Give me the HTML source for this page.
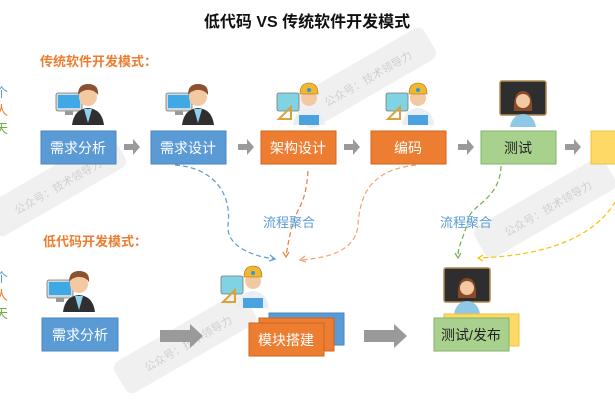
<!DOCTYPE html>
<html><head><meta charset="utf-8"><style>
html,body{margin:0;padding:0;background:#fff;}
svg{display:block;font-family:"Liberation Sans","Noto Sans CJK SC",sans-serif;}
</style></head><body>
<svg width="615" height="410" viewBox="0 0 615 410" xmlns="http://www.w3.org/2000/svg">
<defs>
<g id="man">
 <rect x="0" y="14" width="26" height="18" rx="2" fill="#cfd8dc" stroke="#777" stroke-width="0.8"/>
 <rect x="2" y="16" width="22" height="13" fill="#3fa9e6"/>
 <rect x="9" y="32" width="8" height="4" fill="#999"/>
 <path d="M16 46 Q18 30 32 29 Q46 30 48 46 Z" fill="#2f2f2f"/>
 <path d="M28 30 L32 44 L36 30 Z" fill="#8fd0ee"/>
 <circle cx="32" cy="18" r="9" fill="#f3c9a2"/>
 <path d="M22 16 Q22 5 32 5 Q43 5 42 16 Q38 10 30 11 Q25 12 22 16Z" fill="#8a5230"/>
</g>
<g id="worker">
 <rect x="0" y="14" width="22" height="18" rx="2" fill="#7fd3e3" stroke="#777" stroke-width="0.8"/>
 <path d="M2 40 L14 28 L14 40Z" fill="none" stroke="#d9a23a" stroke-width="2"/>
 <path d="M16 46 Q18 30 32 29 Q46 30 48 46 Z" fill="#e8eef2"/>
 <path d="M22 36 L42 36 L42 46 L22 46Z" fill="#4aa3df"/>
 <circle cx="32" cy="19" r="8" fill="#f3c9a2"/>
 <path d="M23 15 Q23 4 32 4 Q41 4 41 15 Z" fill="#f2b630" stroke="#a07010" stroke-width="0.6"/>
 <circle cx="32" cy="11" r="2" fill="#2a9be0"/>
</g>
<g id="teacher">
 <rect x="0" y="0" width="46" height="34" rx="2" fill="#2e2e2e" stroke="#b08a50" stroke-width="1.5"/>
 <path d="M10 46 Q12 34 23 33 Q34 34 36 46Z" fill="#8fc7e6"/>
 <path d="M14 30 Q13 10 23 10 Q33 10 32 30Z" fill="#8a4a2a"/>
 <circle cx="23" cy="20" r="7" fill="#f3c9a2"/>
</g>
</defs>

<g fill="#f0f0f0">
 <rect x="-20" y="168" width="150" height="36" rx="8" transform="rotate(-30 55 186)"/>
 <rect x="290" y="60" width="150" height="36" rx="8" transform="rotate(-30 365 78)"/>
 <rect x="470" y="190" width="150" height="36" rx="8" transform="rotate(-30 545 208)"/>
 <rect x="110" y="325" width="150" height="36" rx="8" transform="rotate(-30 185 343)"/>
</g>
<g fill="#cfcfcf" font-size="11">
 <text x="8" y="192" transform="rotate(-30 55 186)">公众号：技术领导力</text>
 <text x="318" y="84" transform="rotate(-30 365 78)">公众号：技术领导力</text>
 <text x="498" y="214" transform="rotate(-30 545 208)">公众号：技术领导力</text>
 <text x="138" y="349" transform="rotate(-30 185 343)">公众号：技术领导力</text>
</g>

<text x="307" y="27" text-anchor="middle" font-size="16" font-weight="bold" fill="#111">低代码 VS 传统软件开发模式</text>
<text x="40" y="66" font-size="13" font-weight="bold" fill="#ed7d31">传统软件开发模式：</text>
<text x="43" y="246" font-size="13" font-weight="bold" fill="#ed7d31">低代码开发模式：</text>

<g font-size="13">
 <text x="-5" y="97" fill="#5b9bd5">个</text><text x="-5" y="115" fill="#ed7d31">人</text><text x="-5" y="133" fill="#70ad47">天</text>
 <text x="-5" y="282" fill="#5b9bd5">个</text><text x="-5" y="300" fill="#ed7d31">人</text><text x="-5" y="318" fill="#70ad47">天</text>
</g>

<use href="#man" x="56" y="79"/>
<use href="#man" x="166" y="79"/>
<use href="#worker" x="277" y="79"/>
<use href="#worker" x="386" y="79"/>
<use href="#teacher" x="500" y="81"/>
<use href="#man" x="47" y="266"/>
<use href="#worker" x="221" y="262"/>
<use href="#teacher" x="444" y="268"/>

<g stroke-width="1">
<rect x="41" y="131" width="75" height="33" fill="#5b9bd5" stroke="#4a86bf"/>
<rect x="151" y="131" width="75" height="33" fill="#5b9bd5" stroke="#4a86bf"/>
<rect x="261" y="131" width="75" height="33" fill="#ed7d31" stroke="#d06520"/>
<rect x="371" y="131" width="75" height="33" fill="#ed7d31" stroke="#d06520"/>
<rect x="481" y="131" width="75" height="33" fill="#a9d18e" stroke="#82b36a"/>
<rect x="591" y="131" width="40" height="33" fill="#ffd966" stroke="#f0c040"/>
</g>
<g font-size="14" text-anchor="middle">
<text x="78" y="153" fill="#fff">需求分析</text>
<text x="188" y="153" fill="#fff">需求设计</text>
<text x="298" y="153" fill="#fff">架构设计</text>
<text x="408" y="153" fill="#fff">编码</text>
<text x="518" y="153" fill="#222">测试</text>
</g>
<g fill="#9a9a9a">
 <path d="M124 144h9v-5l7 8-7 8v-5h-9z"/>
 <path d="M238 144h9v-5l7 8-7 8v-5h-9z"/>
 <path d="M344 144h9v-5l7 8-7 8v-5h-9z"/>
 <path d="M458 144h9v-5l7 8-7 8v-5h-9z"/>
 <path d="M565 144h9v-5l7 8-7 8v-5h-9z"/>
</g>

<g fill="none" stroke-width="1.2" stroke-dasharray="5 3">
 <path d="M175 165 C215 168 232 195 228 225 C226 245 250 256 275 259" stroke="#5b9bd5"/>
 <path d="M308 171 C306 200 300 205 296 215 C290 230 288 245 286 256" stroke="#ed7d31"/>
 <path d="M416 165 C370 170 360 195 358 225 C356 250 330 258 300 260" stroke="#f4a070"/>
 <path d="M501 166 C500 200 470 205 468 220 C465 235 458 245 458 256" stroke="#70ad47"/>
 <path d="M625 180 C610 230 560 255 478 258" stroke="#ffc000"/>
</g>
<g fill="none" stroke-width="1.2">
 <path d="M270 255 l5 4 -6 2" stroke="#5b9bd5"/>
 <path d="M283 252 l3 5 3 -5" stroke="#ed7d31"/>
 <path d="M305 256 l-5 4 6 2" stroke="#f4a070"/>
 <path d="M455 253 l3 5 3 -5" stroke="#70ad47"/>
 <path d="M483 255 l-5 3 5 3" stroke="#ffc000"/>
</g>
<g font-size="13" fill="#5b9bd5">
 <text x="263" y="227">流程聚合</text>
 <text x="440" y="227">流程聚合</text>
</g>

<rect x="42" y="318" width="76" height="33" fill="#5b9bd5" stroke="#4a86bf"/>
<text x="80" y="340" font-size="14" text-anchor="middle" fill="#fff">需求分析</text>
<path d="M160 330h30v-6l13 12-13 12v-6h-30z" fill="#9a9a9a"/>
<rect x="269" y="313" width="75" height="32" fill="#5b9bd5" stroke="#4a86bf"/>
<rect x="259" y="318" width="75" height="33" fill="#ed7d31" stroke="#d06520"/>
<rect x="249" y="323" width="75" height="33" fill="#ed7d31" stroke="#d06520"/>
<text x="286" y="345" font-size="14" text-anchor="middle" fill="#fff">模块搭建</text>
<path d="M364 330h30v-6l13 12-13 12v-6h-30z" fill="#9a9a9a"/>
<rect x="444" y="314" width="75" height="32" fill="#ffd966" stroke="#f0c040"/>
<rect x="434" y="318" width="75" height="33" fill="#a9d18e" stroke="#82b36a"/>
<text x="471" y="340" font-size="14" text-anchor="middle" fill="#222">测试/发布</text>
</svg>
</body></html>
